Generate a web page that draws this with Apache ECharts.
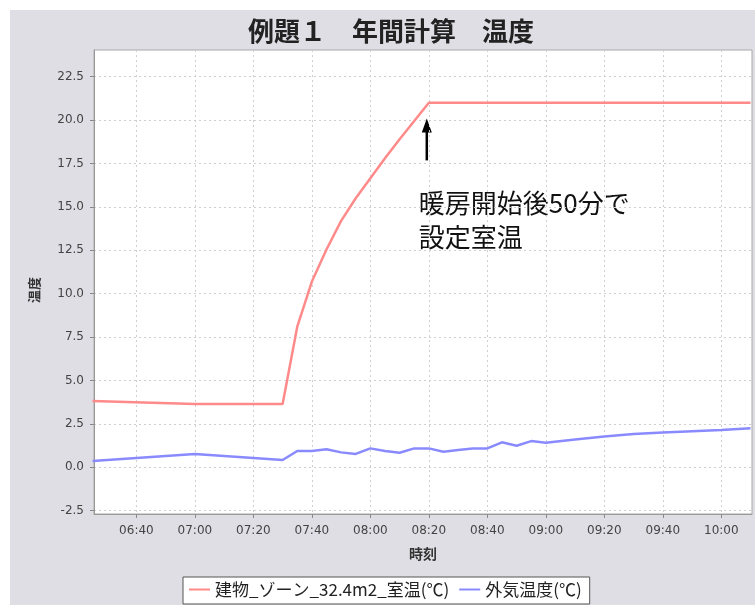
<!DOCTYPE html>
<html>
<head>
<meta charset="utf-8">
<script src="https://cdn.jsdelivr.net/npm/echarts@6/dist/echarts.min.js"></script>
<style>
html, body { margin: 0; padding: 0; background: #fff; }
#main { width: 755px; height: 605px; }
</style>
</head>
<body>
<div id="main"></div>
<script>
// 時刻 (HH:MM)
var times = ['06:25', '07:00', '07:30', '07:35', '07:40', '07:45', '07:50', '07:55',
    '08:00', '08:05', '08:10', '08:15', '08:20', '08:25', '08:30', '08:35', '08:40',
    '08:45', '08:50', '08:55', '09:00', '09:10', '09:20', '09:30', '09:40', '09:50',
    '10:00', '10:10'];
// 建物_ゾーン_32.4m2_室温(℃)
var roomTemp = [3.82, 3.65, 3.65, 8.1, 10.7, 12.55, 14.2, 15.5, 16.65, 17.8, 18.9, 19.95,
    21.0, 21.0, 21.0, 21.0, 21.0, 21.0, 21.0, 21.0, 21.0, 21.0, 21.0, 21.0, 21.0, 21.0,
    21.0, 21.0];
// 外気温度(℃)
var outdoorTemp = [0.36, 0.77, 0.42, 0.94, 0.94, 1.04, 0.86, 0.77, 1.09, 0.94, 0.84, 1.09,
    1.09, 0.90, 1.0, 1.09, 1.09, 1.44, 1.24, 1.51, 1.42, 1.6, 1.78, 1.92, 2.0, 2.08,
    2.15, 2.25];
var xTickLabels = ['06:40', '07:00', '07:20', '07:40', '08:00', '08:20', '08:40',
    '09:00', '09:20', '09:40', '10:00'];
var yTickValues = [-2.5, 0, 2.5, 5, 7.5, 10, 12.5, 15, 17.5, 20, 22.5];
var seriesNames = ['建物_ゾーン_32.4m2_室温(℃)', '外気温度(℃)'];

function toMin(s) {
    var p = s.split(':');
    return parseInt(p[0], 10) * 60 + parseInt(p[1], 10);
}
function fmtMin(v) {
    var h = Math.floor(v / 60), m = Math.round(v % 60);
    return (h < 10 ? '0' : '') + h + ':' + (m < 10 ? '0' : '') + m;
}
function pairs(vals) {
    return times.map(function (t, i) { return [toMin(t), vals[i]]; });
}

var labelFont = { color: '#444', fontSize: 12, fontFamily: 'DejaVu Sans' };

var myChart = echarts.init(document.getElementById('main'));
var option = {
    animation: false,
    backgroundColor: '#fff',
    graphic: [{
        type: 'rect', z: -10, silent: true,
        shape: { x: 10, y: 10, width: 745, height: 595 },
        style: { fill: '#dfdee4' }
    }],
    title: {
        text: '例題１　年間計算　温度',
        left: 386, top: 13, textAlign: 'center',
        textStyle: { fontSize: 26, fontWeight: 'bold', color: '#222', fontFamily: 'Noto Sans CJK JP' }
    },
    grid: {
        left: 94, right: 3, top: 50, bottom: 91,
        show: true, backgroundColor: '#fff', borderColor: '#a8a8a8', borderWidth: 1
    },
    legend: {
        data: seriesNames,
        left: 183, top: 577,
        backgroundColor: '#fff', borderColor: '#555', borderWidth: 1,
        padding: [4, 8, 6, 6],
        itemGap: 10, itemWidth: 21, itemHeight: 2,
        icon: 'rect',
        textStyle: { fontSize: 17, color: '#222', fontFamily: 'Noto Sans CJK JP' }
    },
    xAxis: {
        type: 'value',
        min: 385.5, max: 610.5,
        name: '時刻', nameLocation: 'middle', nameGap: 33,
        nameTextStyle: { fontSize: 14, fontWeight: 'bold', color: '#333', fontFamily: 'Noto Sans CJK JP' },
        axisLine: { onZero: false, lineStyle: { color: '#999' } },
        axisTick: { show: true, length: 4, lineStyle: { color: '#888' }, customValues: xTickLabels.map(toMin) },
        axisLabel: Object.assign({ margin: 11, customValues: xTickLabels.map(toMin), formatter: fmtMin }, labelFont),
        splitLine: { show: true, lineStyle: { color: '#cfcfcf', type: [2, 3] } }
    },
    yAxis: {
        type: 'value',
        min: -2.69, max: 24.04,
        name: '温度', nameLocation: 'middle', nameGap: 53,
        nameTextStyle: { fontSize: 13, fontWeight: 'bold', color: '#333', fontFamily: 'Noto Sans CJK JP', padding: [0, 16, 0, 0] },
        axisLine: { show: true, onZero: false, lineStyle: { color: '#999' } },
        axisTick: { show: true, length: 4, lineStyle: { color: '#888' }, customValues: yTickValues },
        axisLabel: Object.assign({
            margin: 10, customValues: yTickValues,
            formatter: function (v) { return v.toFixed(1); }
        }, labelFont),
        splitLine: { show: true, lineStyle: { color: '#cfcfcf', type: [2, 3] } }
    },
    series: [
        {
            name: seriesNames[0], type: 'line', showSymbol: false,
            color: '#ff8a8a', lineStyle: { width: 2.5 },
            data: pairs(roomTemp)
        },
        {
            name: seriesNames[1], type: 'line', showSymbol: false,
            color: '#8a8aff', lineStyle: { width: 2.5 },
            data: pairs(outdoorTemp)
        }
    ]
};
myChart.setOption(option);

// annotation: arrow pointing to the moment the set temperature is reached
var tip = myChart.convertToPixel({ gridIndex: 0 }, [toMin('08:20') - 0.7, 20.1]);
myChart.setOption({
    graphic: [
        option.graphic[0],
        {
            type: 'line', silent: true,
            shape: { x1: tip[0], y1: tip[1] + 10, x2: tip[0], y2: tip[1] + 42 },
            style: { stroke: '#000', lineWidth: 2.5 }
        },
        {
            type: 'polygon', silent: true,
            shape: { points: [[tip[0], tip[1]], [tip[0] - 5, tip[1] + 14], [tip[0] + 5, tip[1] + 14]] },
            style: { fill: '#000' }
        },
        {
            type: 'text', silent: true,
            x: tip[0] - 8, y: tip[1] + 68,
            style: {
                text: '暖房開始後50分で\n設定室温',
                fontSize: 26, lineHeight: 34, fill: '#111',
                fontFamily: 'Noto Sans CJK JP'
            }
        }
    ]
});
</script>
</body>
</html>
